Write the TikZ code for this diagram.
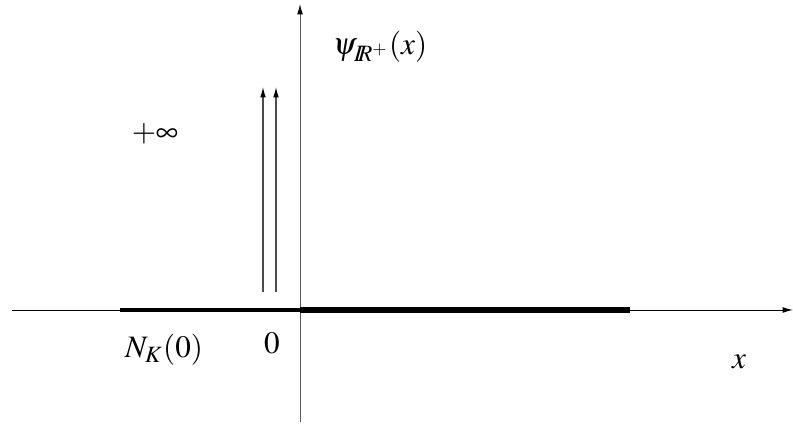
\documentclass[tikz,border=0pt]{standalone}
\usepackage{mathptmx}
\usetikzlibrary{arrows.meta}
\begin{document}
\begin{tikzpicture}[x=0.385pt,y=-0.385pt,
    axis/.style={line width=0.35pt,-{Latex[length=4pt,width=2.2pt,black]}},
    spike/.style={line width=0.45pt,draw=black!70,-{Latex[length=4pt,width=2.2pt,black]}},
    lbl/.style={inner sep=0pt,font=\large}]
  \useasboundingbox (0,0) rectangle (793,425);
  % axes
  \coordinate (o) at (300,310);
  \coordinate (xl) at (12,310);
  \coordinate (xr) at (793,310);
  \coordinate (yb) at (300,422);
  \coordinate (yt) at (300,4);
  \draw[axis] (xl) -- (xr);
  \draw[axis,draw=black!65] (yb) -- (yt);
  % normal cone and indicator set
  \coordinate (nk) at (120,310);
  \coordinate (re) at (630,310);
  \draw[line width=1.2pt] (nk) -- (o);
  \draw[line width=2.6pt] (o) -- (re);
  % vertical spikes at 0
  \coordinate (s1) at (263,292);
  \coordinate (t1) at (263,87);
  \coordinate (s2) at (276,292);
  \coordinate (t2) at (276,87);
  \draw[spike] (s1) -- (t1);
  \draw[spike] (s2) -- (t2);
  % labels
  \node[lbl] (psi) at (380,47) {$\psi_{I\!\!R^+}(x)$};
  \node[lbl] (inf) at (155,134) {$+\infty$};
  \node[lbl] (nko) at (164,350) {$N_K(0)$};
  \node[lbl] (zero) at (272,343) {$0$};
  \node[lbl] (xx) at (739,362) {$x$};
\end{tikzpicture}
\end{document}
